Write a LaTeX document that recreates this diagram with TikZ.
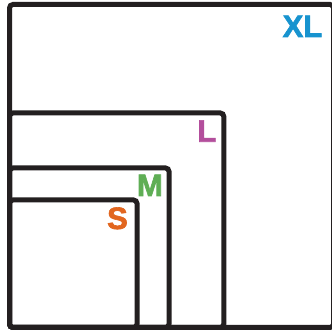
\documentclass[tikz,border=0pt]{standalone}
\usepackage{fontspec}
\setmainfont{Liberation Sans}
\newfontfamily\heavyfont{Liberation Sans}[BoldFeatures={FakeBold=2}]
\definecolor{frame}{HTML}{231F20}
\definecolor{xlblue}{HTML}{1793CF}
\definecolor{lmag}{HTML}{B34E9C}
\definecolor{mgreen}{HTML}{5FAE55}
\definecolor{sorange}{HTML}{E2661F}
\begin{document}
\begin{tikzpicture}[x=1pt,y=1pt,
  sizebox/.style={draw=frame,line width=5pt,rounded corners=3.5pt},
  sizelabel/.style={inner sep=0pt,anchor=base east,font=\heavyfont\fontsize{31}{31}\selectfont\bfseries}]
\useasboundingbox (0,0) rectangle (332,331);
\clip (0,0) rectangle (332,331);
\fill[white] (0,0) rectangle (332,331);
% boxes (all share bottom-left corner)
\draw[sizebox] (9.5,3.5) rectangle (333.5,326.5);
\draw[sizebox] (9.5,3.5) rectangle (223.8,218);
\draw[sizebox] (9.5,3.5) rectangle (169,163);
\draw[sizebox] (9.5,3.5) rectangle (137,131);
% labels
\node[sizelabel,text=xlblue] (xl) at (322.5,294) {XL};
\node[sizelabel,text=lmag] (l) at (216.5,189.3) {L};
\node[sizelabel,text=mgreen] (m) at (163,135) {M};
\node[sizelabel,text=sorange] (s) at (128,102) {S};
\end{tikzpicture}
\end{document}
